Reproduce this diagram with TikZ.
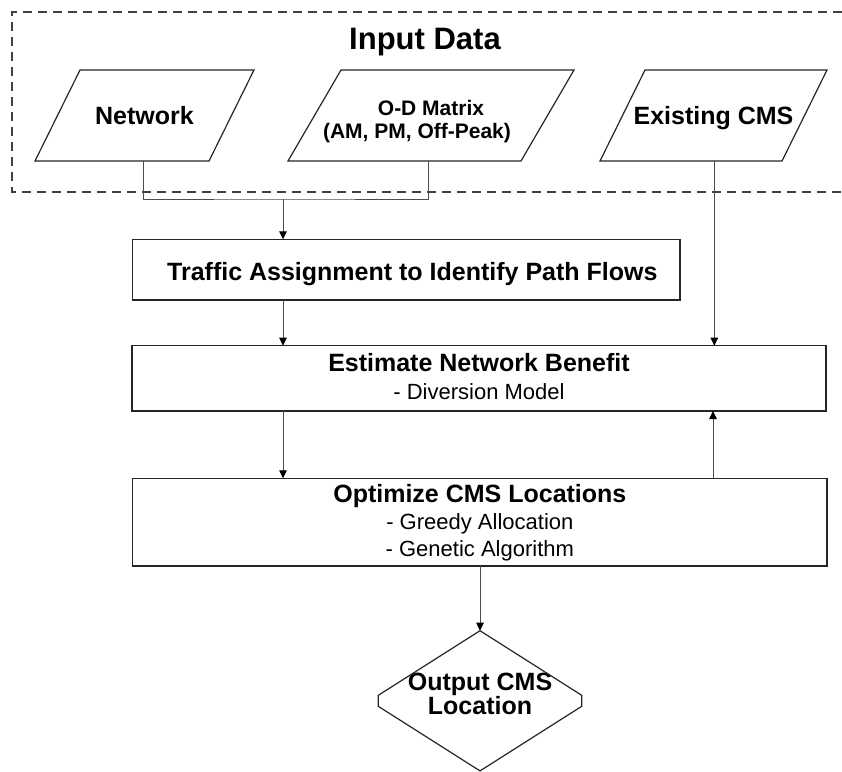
\documentclass[tikz,border=0pt]{standalone}
\usepackage{fontspec}
\setmainfont{Liberation Sans}
\usetikzlibrary{arrows.meta}
\begin{document}
\begin{tikzpicture}[x=1pt,y=-1pt,
  frame/.style={draw=black!85, line width=1.2pt},
  dashframe/.style={draw=black!75, line width=1.2pt, dash pattern=on 9pt off 6pt},
  conn/.style={draw=black!70, line width=1pt},
  arr/.style={conn, -{Triangle[length=8pt,width=7.5pt,color=black]}},
  inputtext/.style={inner sep=0pt, outer sep=0pt, minimum height=91pt,
    font=\bfseries\fontsize{25}{30}\selectfont, text height=17pt, text depth=0pt},
  procbox/.style={frame, inner sep=0pt, outer sep=0pt, align=center},
  headfont/.style={font=\bfseries\fontsize{25}{30}\selectfont},
]
\useasboundingbox[fill=white] (0,0) rectangle (842,771);

% input data group
\draw[dashframe] (842,12) -- (12,12) -- (12,192) -- (842,192);
\node[font=\bfseries\fontsize{31}{36}\selectfont, anchor=base] (title) at (425,49.3) {Input Data};

% input parallelograms
\node[inputtext, minimum width=174pt] (net) at (144.5,115.5) {Network};
\draw[frame] ([xshift=-22.5pt]net.south west) -- ([xshift=-22.5pt]net.south east)
  -- ([xshift=22.5pt]net.north east) -- ([xshift=22.5pt]net.north west) -- cycle;

\node[inputtext, minimum width=233pt, align=center, font=\bfseries\fontsize{21}{23}\selectfont,
  text height=45pt, text depth=0pt] (od) at (431,115.5) {O-D Matrix\\\hspace*{-28pt}(AM, PM, Off-Peak)};
\draw[frame] ([xshift=-26.5pt]od.south west) -- ([xshift=-26.5pt]od.south east)
  -- ([xshift=26.5pt]od.north east) -- ([xshift=26.5pt]od.north west) -- cycle;

\node[inputtext, minimum width=182pt] (exist) at (713.5,115.5) {Existing CMS};
\draw[frame] ([xshift=-22.5pt]exist.south west) -- ([xshift=-22.5pt]exist.south east)
  -- ([xshift=22.5pt]exist.north east) -- ([xshift=22.5pt]exist.north west) -- cycle;

% process boxes
\node[procbox, headfont, minimum width=547.3pt, minimum height=60.7pt,
  text height=20.7pt, text depth=0pt] (traffic) at (406.35,269.65)
  {\hspace*{12pt}Traffic Assignment to Identify Path Flows};

\node[procbox, minimum width=694pt, minimum height=65.3pt, font=\fontsize{22}{27.6}\selectfont,
  text height=41.9pt, text depth=0pt] (estimate) at (479,378.35)
  {{\bfseries\fontsize{25}{27.6}\selectfont Estimate Network Benefit}\\- Diversion Model};

\node[procbox, minimum width=694.3pt, minimum height=87.7pt, font=\fontsize{22}{27.2}\selectfont,
  text height=69.1pt, text depth=0pt] (optimize) at (479.85,522.15)
  {{\bfseries\fontsize{25}{27.2}\selectfont Optimize CMS Locations}\\- Greedy Allocation\\- Genetic Algorithm};

% output decision shape
\node[inner sep=0pt, outer sep=0pt, minimum width=203.4pt, minimum height=140.2pt, align=center,
  font=\bfseries\fontsize{25}{18}\selectfont, text height=27pt, text depth=0pt]
  (out) at (480,700.8) {Output CMS\\Location};
\draw[frame] (out.north) -- ([yshift=5.5pt]out.east) -- ([yshift=-5.5pt]out.east)
  -- (out.south) -- ([yshift=-5.5pt]out.west) -- ([yshift=5.5pt]out.west) -- cycle;

% connectors
\coordinate (join) at (283,199);
\coordinate (existdown) at ([xshift=0.8pt]exist.south);
\coordinate (feedback) at ([xshift=-0.5pt]exist.south);
\draw[conn] ([xshift=-1pt]net.south) |- (join) -| ([xshift=-3pt]od.south);
\draw[arr] (join) -- (traffic.north -| join);
\draw[arr] (traffic.south -| join) -- (estimate.north -| join);
\draw[arr] (existdown) -- (estimate.north -| existdown);
\draw[arr] (estimate.south -| join) -- (optimize.north -| join);
\draw[arr] (optimize.north -| feedback) -- (estimate.south -| feedback);
\draw[arr] (optimize.south -| out.north) -- (out.north);
\end{tikzpicture}
\end{document}
